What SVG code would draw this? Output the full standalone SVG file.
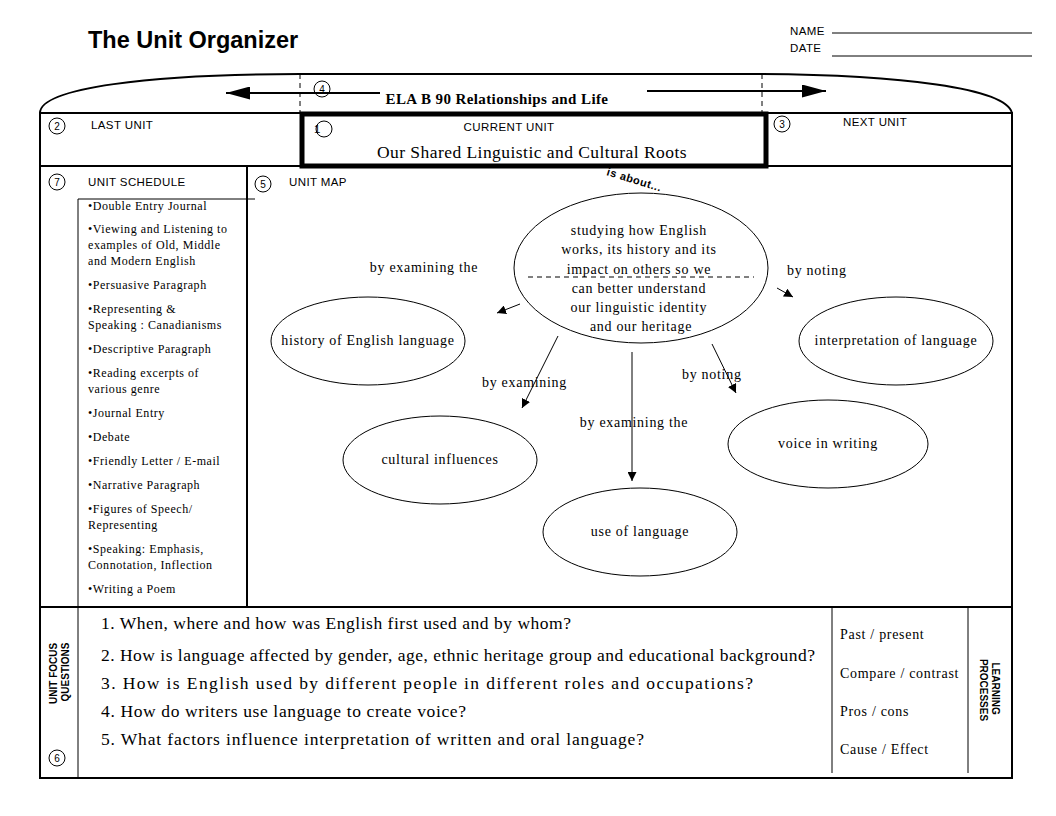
<svg xmlns="http://www.w3.org/2000/svg" width="1056" height="816" viewBox="0 0 1056 816">
<style>
.frame{fill:none;stroke:#000;stroke-width:2}
.thin{fill:none;stroke:#000;stroke-width:1}
.dash{fill:none;stroke:#000;stroke-width:1;stroke-dasharray:5 4}
.lbl{font-family:"Liberation Sans",Arial,sans-serif;font-size:11.5px;letter-spacing:0.4px;fill:#000}
.num{font-family:"Liberation Sans",Arial,sans-serif;font-size:10px;fill:#000;text-anchor:middle}
.ser{font-family:"Liberation Serif","Times New Roman",serif;fill:#000}
.sch{font-family:"Liberation Serif","Times New Roman",serif;font-size:12px;letter-spacing:0.55px;fill:#000}
.map{font-family:"Liberation Serif","Times New Roman",serif;font-size:14px;letter-spacing:0.7px;fill:#000}
.q{font-family:"Liberation Serif","Times New Roman",serif;font-size:17.5px;fill:#000}
.bold{font-family:"Liberation Sans",Arial,sans-serif;font-weight:bold;fill:#000}
.node{fill:#fff;stroke:#000;stroke-width:1}
.conn{stroke:#000;stroke-width:1;fill:none}
</style>
<defs>
<marker id="ah" viewBox="0 0 10 10" refX="10" refY="5" markerWidth="9" markerHeight="9" markerUnits="userSpaceOnUse" orient="auto">
<path d="M0,0 L10,5 L0,10 Z" fill="#000"/>
</marker>
<marker id="big" viewBox="0 0 10 10" refX="10" refY="5" markerWidth="24" markerHeight="13" markerUnits="userSpaceOnUse" orient="auto" preserveAspectRatio="none">
<path d="M0,0 L10,5 L0,10 Z" fill="#000"/>
</marker>
</defs>
<rect width="1056" height="816" fill="#fff"/>

<g id="header">
<text x="88" y="48" class="bold" font-size="23.5">The Unit Organizer</text>
<text x="790" y="35" class="lbl" font-size="10.5">NAME</text>
<text x="790" y="52" class="lbl" font-size="10.5">DATE</text>
<line x1="832" y1="33" x2="1032" y2="33" class="thin"/>
<line x1="832" y1="56" x2="1032" y2="56" class="thin"/>
</g>

<g id="frame">
<path d="M40,113 C40,88 150,74 300,74 L762,74 C900,75 1006,88 1012,113" class="frame"/>
<line x1="300" y1="74" x2="300" y2="113" class="dash"/>
<line x1="762" y1="74" x2="762" y2="113" class="dash"/>
<line x1="40" y1="113" x2="1012" y2="113" class="frame"/>
<line x1="40" y1="166" x2="1012" y2="166" class="frame"/>
<line x1="40" y1="607" x2="1012" y2="607" class="frame"/>
<line x1="40" y1="778" x2="1012" y2="778" class="frame" stroke-width="2.5"/>
<line x1="40" y1="112" x2="40" y2="779" class="frame"/>
<line x1="1012" y1="112" x2="1012" y2="779" class="frame"/>
<line x1="247" y1="166" x2="247" y2="607" class="frame"/>
<line x1="78" y1="199" x2="255" y2="199" class="thin"/>
<line x1="78" y1="199" x2="78" y2="778" class="thin"/>
<line x1="832" y1="607" x2="832" y2="773" class="thin"/>
<line x1="968" y1="607" x2="968" y2="773" class="thin"/>
</g>

<g id="course">
<circle cx="322" cy="89" r="8" class="thin"/>
<text x="322" y="93" class="num">4</text>
<text x="497" y="104" class="ser" font-size="15" font-weight="bold" letter-spacing="0.4" text-anchor="middle">ELA B 90 Relationships and Life</text>
<line x1="380" y1="93" x2="226" y2="93" class="frame" marker-end="url(#big)"/>
<line x1="647" y1="91" x2="826" y2="91" class="frame" marker-end="url(#big)"/>
</g>

<g id="last-unit">
<circle cx="57" cy="126" r="8" class="thin"/>
<text x="57" y="130" class="num">2</text>
<text x="91" y="129" class="lbl">LAST UNIT</text>
</g>

<g id="current-unit">
<rect x="302" y="114" width="464" height="52" fill="none" stroke="#000" stroke-width="5"/>
<circle cx="324" cy="129" r="8" class="thin"/>
<text x="314" y="133" class="lbl" font-size="10">1</text>
<text x="509" y="131" class="lbl" text-anchor="middle">CURRENT  UNIT</text>
<text x="532" y="158" class="ser" font-size="17.5" letter-spacing="0.45" text-anchor="middle">Our Shared Linguistic and Cultural Roots</text>
</g>

<g id="next-unit">
<circle cx="782" cy="124" r="8" class="thin"/>
<text x="782" y="128" class="num">3</text>
<text x="843" y="126" class="lbl">NEXT UNIT</text>
</g>

<g id="unit-schedule">
<circle cx="57" cy="182" r="8" class="thin"/>
<text x="57" y="186" class="num">7</text>
<text x="88" y="186" class="lbl">UNIT SCHEDULE</text>
<text class="sch">
<tspan x="88" y="210">•Double Entry Journal</tspan>
<tspan x="88" y="233">•Viewing and Listening to</tspan>
<tspan x="88" y="249">examples of Old, Middle</tspan>
<tspan x="88" y="265">and Modern English</tspan>
<tspan x="88" y="289">•Persuasive Paragraph</tspan>
<tspan x="88" y="313">•Representing &amp;</tspan>
<tspan x="88" y="329">Speaking : Canadianisms</tspan>
<tspan x="88" y="353">•Descriptive Paragraph</tspan>
<tspan x="88" y="377">•Reading excerpts of</tspan>
<tspan x="88" y="393">various genre</tspan>
<tspan x="88" y="417">•Journal Entry</tspan>
<tspan x="88" y="441">•Debate</tspan>
<tspan x="88" y="465">•Friendly Letter / E-mail</tspan>
<tspan x="88" y="489">•Narrative Paragraph</tspan>
<tspan x="88" y="513">•Figures of Speech/</tspan>
<tspan x="88" y="529">Representing</tspan>
<tspan x="88" y="553">•Speaking: Emphasis,</tspan>
<tspan x="88" y="569">Connotation, Inflection</tspan>
<tspan x="88" y="593">•Writing a Poem</tspan>
</text>
</g>

<g id="unit-map-label">
<circle cx="263" cy="184" r="8" class="thin"/>
<text x="263" y="188" class="num">5</text>
<text x="289" y="186" class="lbl">UNIT MAP</text>
<text x="606" y="175" class="bold" font-size="11" letter-spacing="0.5" transform="rotate(17 606 175)">is about...</text>
</g>

<g id="connectors">
<line x1="520" y1="304" x2="497" y2="313" class="conn" marker-end="url(#ah)"/>
<line x1="558" y1="336" x2="522" y2="408" class="conn" marker-end="url(#ah)"/>
<line x1="632" y1="352" x2="632" y2="481" class="conn" marker-end="url(#ah)"/>
<line x1="712" y1="344" x2="736" y2="393" class="conn" marker-end="url(#ah)"/>
<line x1="777" y1="288" x2="793" y2="297" class="conn" marker-end="url(#ah)"/>
<text x="424" y="272" class="map" text-anchor="middle">by examining  the</text>
<text x="482" y="387" class="map">by examining</text>
<text x="634" y="427" class="map" text-anchor="middle">by examining  the</text>
<text x="682" y="379" class="map">by noting</text>
<text x="787" y="275" class="map">by noting</text>
</g>

<g id="center-node">
<ellipse cx="641" cy="268" rx="127" ry="75" class="node" stroke-width="2"/>
<line x1="528" y1="277" x2="754" y2="277" class="dash" stroke-dasharray="6 5"/>
<text class="map" text-anchor="middle">
<tspan x="641" y="235">studying how English</tspan>
<tspan x="641" y="254">works, its history and its</tspan>
<tspan x="641" y="274">impact on others so we</tspan>
<tspan x="641" y="293">can better understand</tspan>
<tspan x="641" y="312">our linguistic identity</tspan>
<tspan x="641" y="331">and our heritage</tspan>
</text>
</g>

<g id="history-node">
<ellipse cx="368" cy="341" rx="97" ry="44" class="node"/>
<text x="368" y="345" class="map" text-anchor="middle">history of English language</text>
</g>

<g id="interpretation-node">
<ellipse cx="896" cy="341" rx="97" ry="44" class="node"/>
<text x="896" y="345" class="map" text-anchor="middle">interpretation of language</text>
</g>

<g id="cultural-node">
<ellipse cx="440" cy="460" rx="97" ry="44" class="node"/>
<text x="440" y="464" class="map" text-anchor="middle">cultural influences</text>
</g>

<g id="voice-node">
<ellipse cx="828" cy="444" rx="100" ry="44" class="node"/>
<text x="828" y="448" class="map" text-anchor="middle">voice in writing</text>
</g>

<g id="use-node">
<ellipse cx="640" cy="532" rx="97" ry="44" class="node"/>
<text x="640" y="536" class="map" text-anchor="middle">use of language</text>
</g>

<g id="focus-questions">
<text class="bold" font-size="10" text-anchor="middle" transform="rotate(-90 58 672)">
<tspan x="58" y="671">UNIT FOCUS</tspan>
<tspan x="58" y="683">QUESTIONS</tspan>
</text>
<circle cx="57" cy="758" r="8" class="thin"/>
<text x="57" y="762" class="num">6</text>
<text class="q" lengthAdjust="spacing">
<tspan x="101" y="629" textLength="470">1. When, where and how was English first used and by whom?</tspan>
<tspan x="101" y="661" textLength="714">2. How is language affected by gender, age, ethnic heritage group and educational background?</tspan>
<tspan x="101" y="689" textLength="652">3. How is English used by different people in different roles and occupations?</tspan>
<tspan x="101" y="717" textLength="365">4. How do writers use language to create voice?</tspan>
<tspan x="101" y="745" textLength="543">5. What factors influence interpretation of written and oral language?</tspan>
</text>
</g>

<g id="learning-processes">
<text class="map" letter-spacing="0.6">
<tspan x="840" y="639">Past / present</tspan>
<tspan x="840" y="678">Compare / contrast</tspan>
<tspan x="840" y="716">Pros / cons</tspan>
<tspan x="840" y="754">Cause / Effect</tspan>
</text>
<text class="bold" font-size="10" text-anchor="middle" transform="rotate(90 990 690)">
<tspan x="990" y="688">LEARNING</tspan>
<tspan x="990" y="700">PROCESSES</tspan>
</text>
</g>
</svg>
